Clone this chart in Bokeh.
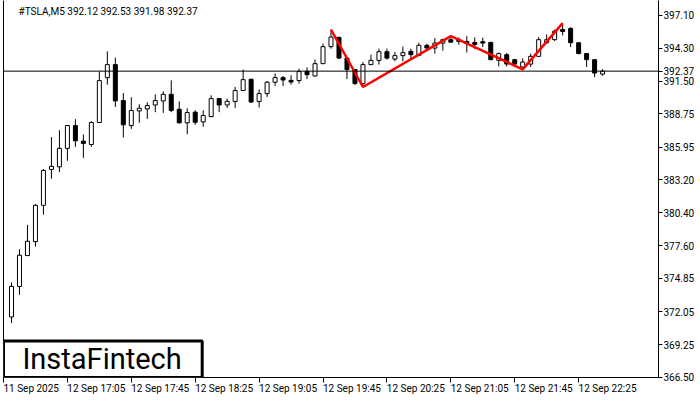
import numpy as np
from bokeh.plotting import figure
from bokeh.models import (Range1d, FixedTicker, LinearAxis, NumeralTickFormatter,
                          CustomJSTickFormatter, Span, Label, BoxAnnotation)
from bokeh.embed import file_html
from bokeh.resources import INLINE

symbol = "#TSLA,M5"

opens = [371.59, 374.17, 376.78, 377.96, 381.03, 384.06, 384.28, 385.84, 387.77, 386.45,
         386.17, 388.03, 391.82, 392.92, 389.88, 387.77, 389.01, 389.17, 389.51, 389.85,
         390.41, 389.15, 388.00, 388.90, 388.08, 388.53, 390.05, 389.51, 389.80, 390.73,
         391.68, 389.80, 390.47, 391.43, 391.82, 391.59, 391.57, 392.35, 391.96, 393.00,
         394.44, 395.22, 393.47, 392.50, 391.32, 392.92, 393.28, 394.01, 393.39, 393.68,
         394.04, 393.70, 394.55, 394.32, 394.74, 395.03, 395.05, 394.88, 394.80, 394.86,
         394.80, 393.28, 393.76, 393.34, 392.72, 392.97, 393.62, 394.77, 395.03, 395.89,
         395.98, 394.77, 393.85, 393.34, 392.12]
highs = [374.50, 377.32, 379.37, 381.14, 384.09, 386.79, 387.38, 387.80, 388.31, 387.02,
         388.14, 392.35, 394.04, 393.51, 390.52, 390.16, 389.57, 389.74, 390.41, 390.67,
         391.59, 389.82, 389.23, 389.06, 389.06, 390.33, 390.08, 390.05, 391.03, 392.50,
         391.74, 390.83, 391.54, 392.18, 391.96, 392.02, 392.58, 392.69, 393.36, 394.69,
         395.87, 395.28, 393.50, 392.52, 393.14, 393.76, 394.27, 394.27, 393.98, 394.44,
         394.27, 394.77, 394.69, 395.16, 395.11, 395.33, 395.22, 395.33, 395.22, 395.20,
         394.84, 393.95, 393.90, 393.40, 393.45, 393.85, 395.25, 395.47, 395.89, 396.43,
         396.09, 394.80, 393.90, 393.36, 392.53]
lows = [371.08, 373.47, 376.75, 377.54, 380.24, 383.27, 383.84, 384.79, 385.97, 385.04,
        385.97, 388.00, 391.23, 389.34, 386.76, 387.49, 388.00, 388.33, 388.90, 388.84,
        388.90, 387.95, 387.04, 387.83, 387.66, 388.47, 388.90, 389.26, 389.26, 390.70,
        389.68, 389.29, 390.19, 391.11, 391.11, 391.23, 391.32, 391.70, 391.91, 392.98,
        394.27, 393.40, 391.70, 391.20, 391.03, 392.88, 392.92, 393.34, 393.20, 393.20,
        393.47, 393.64, 394.27, 393.85, 394.10, 394.78, 394.60, 393.95, 394.23, 394.40,
        393.30, 392.77, 392.77, 392.70, 392.52, 392.72, 393.60, 394.69, 394.91, 395.39,
        394.40, 393.80, 392.72, 391.87, 391.98]
closes = [374.17, 376.81, 377.99, 381.03, 383.98, 384.32, 385.84, 387.77, 386.48, 386.26,
          388.03, 391.57, 392.92, 389.85, 387.83, 389.04, 389.23, 389.46, 389.88, 390.41,
          389.04, 388.00, 388.87, 388.05, 388.62, 390.05, 389.51, 389.82, 390.73, 391.65,
          389.76, 390.47, 391.43, 391.82, 391.62, 391.45, 392.33, 392.07, 393.00, 394.44,
          395.25, 393.47, 392.50, 391.32, 392.92, 393.28, 394.01, 393.47, 393.68, 393.93,
          393.76, 394.55, 394.32, 394.74, 395.03, 394.82, 394.88, 394.71, 394.63, 394.74,
          393.34, 393.85, 392.97, 392.97, 393.14, 393.62, 395.03, 395.03, 395.75, 395.72,
          394.77, 393.85, 393.34, 392.21, 392.37]

price_ticks = [397.10, 394.30, 391.50, 388.75, 385.95, 383.20, 380.40, 377.60,
               374.85, 372.05, 369.25, 366.50]
time_labels = ["11 Sep 2025", "12 Sep 17:05", "12 Sep 17:45", "12 Sep 18:25", "12 Sep 19:05",
               "12 Sep 19:45", "12 Sep 20:25", "12 Sep 21:05", "12 Sep 21:45", "12 Sep 22:25"]
time_label_bars = [-1, 7, 15, 23, 31, 39, 47, 55, 63, 71]

pattern_bars = [40, 44, 55, 64, 69]
pattern_prices = [395.87, 391.03, 395.33, 392.52, 396.43]

# ---- layout (canvas pixels) ----
W, H = 697, 396
B_LEFT, B_RIGHT, B_TOP, B_BOT = 3, 38, 0, 18
BAR_PX = 8.0
X0 = -1.0
frame_w = W - B_LEFT - B_RIGHT
frame_h = H - B_TOP - B_BOT
Y_TOP, Y_BOT = 398.34, 366.475
ppu = frame_h / (Y_TOP - Y_BOT)

def py(canvas_y):
    return Y_TOP - (canvas_y - B_TOP) / ppu

def px(canvas_x):
    return X0 + (canvas_x - B_LEFT) / BAR_PX

FONT = "Roboto"
FS_PX = 10
FS = f"{FS_PX}px"
# approximate Roboto advance widths (em) used to left-align the time labels at their ticks
ADV = {" ": 0.248, "S": 0.593, "e": 0.529, "p": 0.561, ":": 0.242}

def text_w(s):
    return sum(ADV.get(ch, 0.562) for ch in s) * FS_PX

p = figure(width=W, height=H, x_range=Range1d(X0, X0 + frame_w / BAR_PX),
           y_range=Range1d(Y_BOT, Y_TOP), output_backend="svg", toolbar_location=None,
           y_axis_location="right", min_border_left=B_LEFT, min_border_right=B_RIGHT,
           min_border_top=B_TOP, min_border_bottom=B_BOT)
p.outline_line_color = None
p.grid.visible = False
p.background_fill_color = "white"
p.border_fill_color = "white"

# right price axis (scale ticks plus the last price)
ya = p.yaxis[0]
ya.ticker = FixedTicker(ticks=price_ticks + [closes[-1]])
ya.formatter = NumeralTickFormatter(format="0.00")
ya.major_tick_out = 4
ya.major_tick_in = 0
ya.minor_tick_line_color = None
ya.major_label_standoff = 1
ya.major_label_text_font = FONT
ya.major_label_text_font_size = FS
ya.major_label_text_color = "black"
ya.axis_line_color = "black"
ya.major_tick_line_color = "black"

# bottom time axis: tick marks only
xa = p.xaxis[0]
xa.ticker = FixedTicker(ticks=time_label_bars)
xa.major_label_text_color = None
xa.major_label_standoff = 0
xa.major_tick_out = 5
xa.major_tick_in = 0
xa.minor_tick_line_color = None
xa.axis_line_color = "black"
xa.major_tick_line_color = "black"

# second bottom axis carrying the labels, shifted so they start at their ticks
label_pos = [b + text_w(t) / 2 / BAR_PX for b, t in zip(time_label_bars, time_labels)]
xb = LinearAxis(ticker=FixedTicker(ticks=label_pos),
                formatter=CustomJSTickFormatter(args=dict(labels=time_labels),
                                                code="return labels[index]"),
                axis_line_color=None, major_tick_line_color=None, minor_tick_line_color=None,
                major_tick_out=0, major_tick_in=0, minor_tick_out=0, major_label_standoff=0,
                major_label_text_font=FONT, major_label_text_font_size=FS,
                major_label_text_color="black")
p.add_layout(xb, "below")

# left frame line
la = LinearAxis(ticker=FixedTicker(ticks=[]), major_label_text_color=None,
                major_tick_out=0, major_tick_in=0, major_label_standoff=0,
                minor_tick_out=0, axis_line_color="black")
p.add_layout(la, "left")

# candles
idx = np.arange(len(opens))
o = np.array(opens); c = np.array(closes); h = np.array(highs); l = np.array(lows)
up = c >= o
p.segment(x0=idx, y0=l, x1=idx, y1=h, line_color="black", line_width=1)
p.vbar(x=idx[up], width=0.5, top=c[up], bottom=o[up], fill_color="white",
       line_color="black", line_width=1)
p.vbar(x=idx[~up], width=0.5, top=o[~up], bottom=c[~up], fill_color="black",
       line_color="black", line_width=1)

# last price line
p.add_layout(Span(location=closes[-1], dimension="width", line_color="black", line_width=1))

# pattern
p.line(pattern_bars, pattern_prices, line_color="#ff0000", line_width=2.5)

# title
p.add_layout(Label(x=px(18), y=py(11), text=f"{symbol}  {opens[-1]:.2f} {highs[-1]:.2f} "
                   f"{lows[-1]:.2f} {closes[-1]:.2f}", text_align="left",
                   text_baseline="middle", text_color="black",
                   text_font=FONT, text_font_size=FS))

# logo
p.add_layout(BoxAnnotation(left=X0, right=px(202), bottom=Y_BOT, top=py(341.5),
                           fill_color="white", fill_alpha=1, line_color="black",
                           line_width=3, line_alpha=1))
p.add_layout(Label(x=px(22), y=py(359), text="InstaFintech", text_align="left",
                   text_baseline="middle", text_color="black", text_font=FONT,
                   text_font_size="29px"))

open("out.html", "w").write(file_html(p, INLINE))
